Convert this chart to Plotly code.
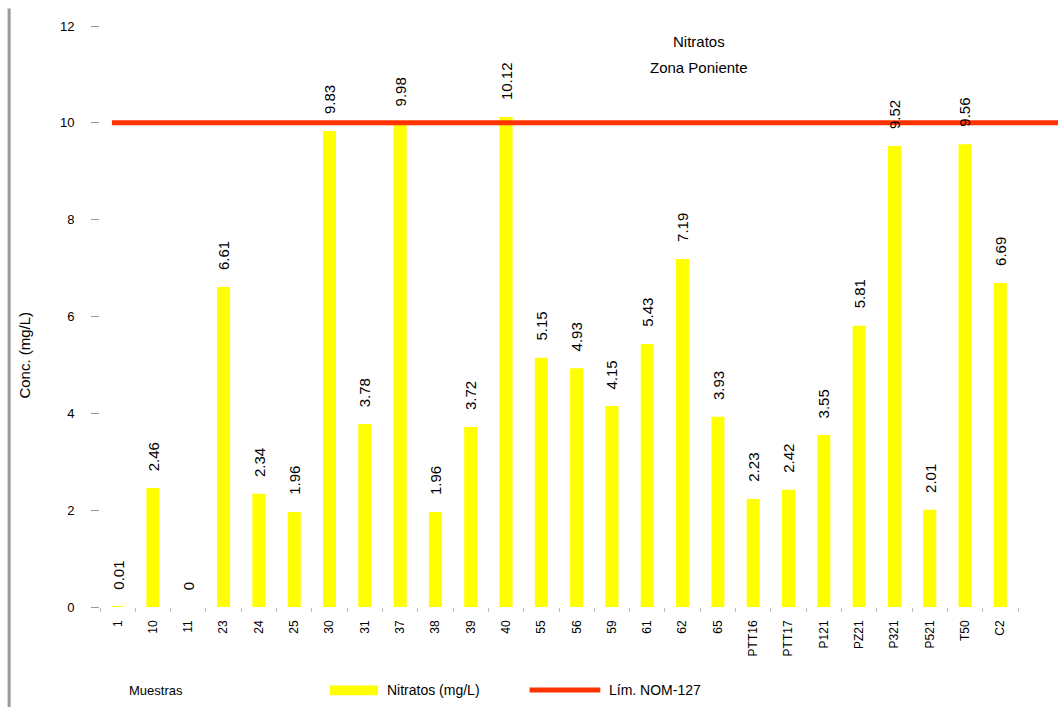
import plotly.graph_objects as go

# Sample identifiers along the x axis
muestras = ["1", "10", "11", "23", "24", "25", "30", "31", "37", "38", "39", "40",
            "55", "56", "59", "61", "62", "65", "PTT16", "PTT17", "P121", "PZ21",
            "P321", "P521", "T50", "C2"]

# Nitrate concentration per sample (mg/L)
nitratos = [0.01, 2.46, 0, 6.61, 2.34, 1.96, 9.83, 3.78, 9.98, 1.96, 3.72, 10.12,
            5.15, 4.93, 4.15, 5.43, 7.19, 3.93, 2.23, 2.42, 3.55, 5.81, 9.52, 2.01,
            9.56, 6.69]

# Maximum permissible limit (NOM-127)
limite_nom = 10

y_ticks = [0, 2, 4, 6, 8, 10, 12]

FONT = "Liberation Sans, Arial, sans-serif"
AMARILLO = "#FFFF00"
ROJO = "#FF3300"

serie_nombre = "Nitratos (mg/L)"
limite_nombre = "Lím. NOM-127"

fig = go.Figure()

fig.add_trace(go.Bar(
    x=muestras, y=nitratos, name=serie_nombre, showlegend=False,
    marker=dict(color=AMARILLO, line=dict(width=0)),
))

# limit line across the whole plot width
fig.add_shape(type="line", xref="paper", yref="y",
              x0=0.013, x1=1.045, y0=limite_nom, y1=limite_nom,
              line=dict(color=ROJO, width=5), layer="above")

# value labels above each bar (positioned by category index)
for i, v in enumerate(nitratos):
    fig.add_annotation(x=i, y=v, text=f"{v:g}", showarrow=False,
                       textangle=-90, yanchor="bottom", yshift=15,
                       font=dict(family=FONT, size=15, color="black"))


def texto(x, y, s, size=14, angle=0, xanchor="center"):
    fig.add_annotation(xref="paper", yref="paper", x=x, y=y, text=s,
                       xanchor=xanchor, yanchor="middle", textangle=angle,
                       showarrow=False,
                       font=dict(family=FONT, size=size, color="black"))


# title block
texto(0.652, 0.9725, "Nitratos", 15)
texto(0.652, 0.928, "Zona Poniente", 15)

# axis captions
texto(-0.082, 0.434, "Conc. (mg/L)", 15, angle=-90)
texto(0.029, -0.143, "Muestras", 13, xanchor="left")

# legend drawn below the axis
fig.add_shape(type="rect", xref="paper", yref="paper",
              x0=0.2505, x1=0.3028, y0=-0.152, y1=-0.135,
              fillcolor=AMARILLO, line=dict(width=0))
texto(0.31, -0.143, serie_nombre, 14, xanchor="left")
fig.add_shape(type="line", xref="paper", yref="paper",
              x0=0.468, x1=0.545, y0=-0.143, y1=-0.143,
              line=dict(color=ROJO, width=5))
texto(0.552, -0.143, limite_nombre, 14, xanchor="left")

# frame line on the left edge
fig.add_shape(type="line", xref="paper", yref="paper",
              x0=-0.099, x1=-0.099, y0=-0.2, y1=1.03,
              line=dict(color="#9a9a9a", width=3))

fig.update_layout(
    width=1058, height=707,
    margin=dict(l=100, r=40, t=26, b=100),
    paper_bgcolor="white", plot_bgcolor="white",
    bargap=0.63,
    showlegend=False,
    font=dict(family=FONT, size=13, color="black"),
)

fig.update_xaxes(type="category", tickangle=-90, showgrid=False, showline=False,
                 range=[-0.5, len(muestras) - 0.5], automargin=False,
                 ticks="outside", tickson="boundaries", ticklen=4, tickcolor="#bbbbbb",
                 ticklabelstandoff=10,
                 tickfont=dict(family=FONT, size=12, color="black"))
fig.update_yaxes(range=[0, 12], tickvals=y_ticks, showgrid=False, showline=False,
                 zeroline=False, ticks="outside", ticklen=8, tickcolor="#999999",
                 ticklabelstandoff=14, automargin=False,
                 tickfont=dict(family=FONT, size=13, color="black"))

fig.write_html("out.html")
